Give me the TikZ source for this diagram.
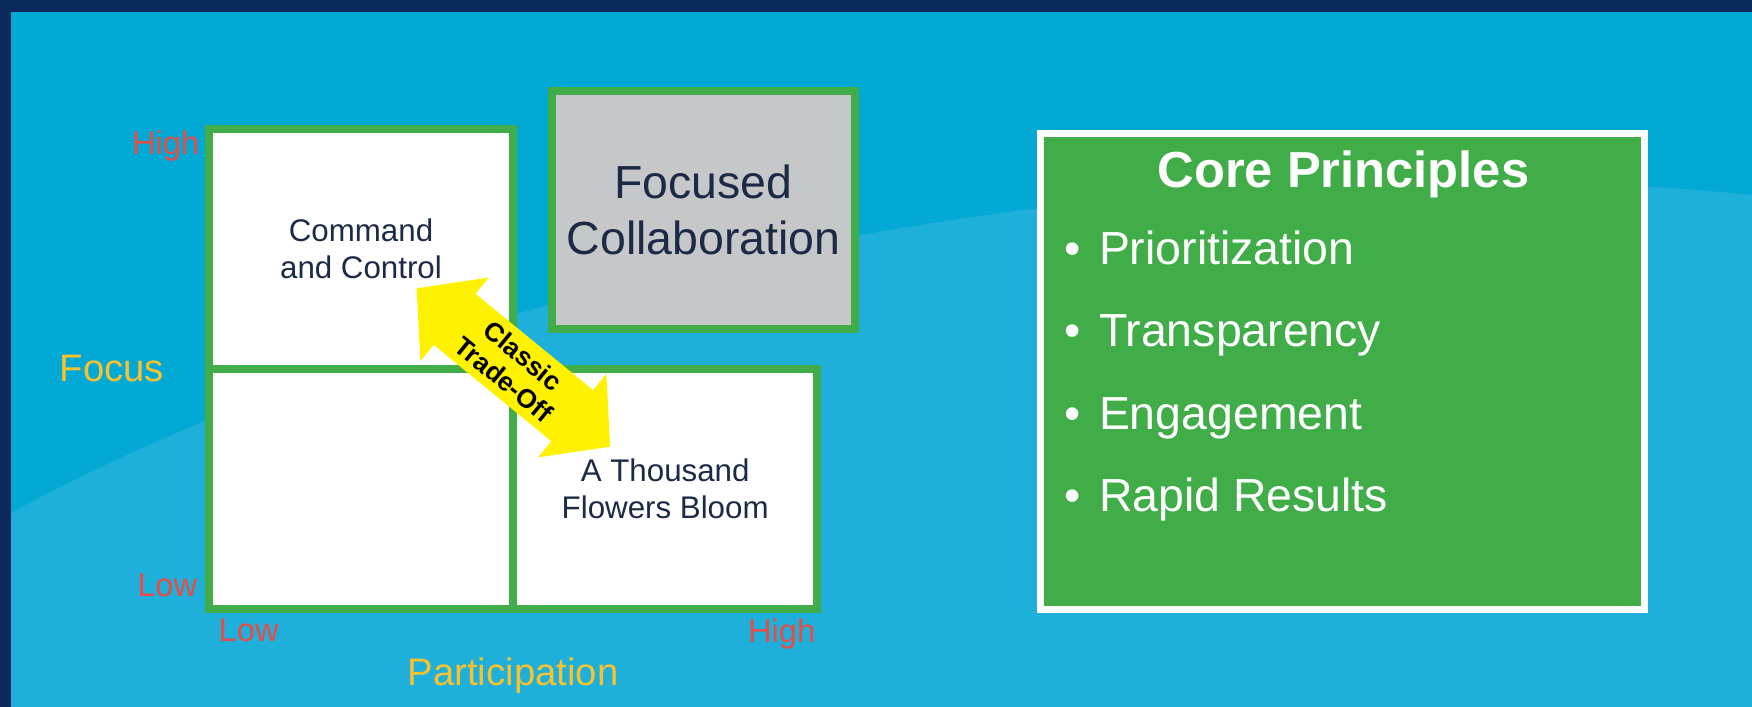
\documentclass[tikz,border=0pt]{standalone}
\usepackage{fontspec}
\setmainfont{Liberation Sans}
\usetikzlibrary{positioning}

\definecolor{navyband}{RGB}{11,42,91}
\definecolor{skyblue}{RGB}{2,169,212}
\definecolor{skylight}{RGB}{30,176,218}
\definecolor{leafgreen}{RGB}{65,173,73}
\definecolor{boxgray}{RGB}{198,199,201}
\definecolor{inktext}{RGB}{28,42,70}
\definecolor{axisred}{RGB}{232,76,70}
\definecolor{axisgold}{RGB}{247,194,45}
\definecolor{signyellow}{RGB}{255,242,0}

\begin{document}
\begin{tikzpicture}[
    x=0.01cm, y=0.01cm,
    quadrant/.style={draw=leafgreen, line width=0.08cm, fill=white, outer sep=0pt,
        minimum width=3.04cm, minimum height=2.4cm, align=center, text=inktext,
        font=\fontsize{8.9}{10.6}\selectfont},
    axisend/.style={text=axisred, inner sep=0pt, font=\fontsize{9.3}{11}\selectfont},
    axisname/.style={text=axisgold, inner sep=0pt, font=\fontsize{10.9}{13}\selectfont},
    principle/.style={text=white, inner sep=0pt, anchor=base west, font=\fontsize{13.2}{16}\selectfont}
]
    % background
    \fill[skyblue] (0,0) rectangle (1752,707);
    \fill[skylight] (11,194) .. controls (400,407) and (1100,577) .. (1752,512) -- (1752,0) -- (11,0) -- cycle;
    \fill[navyband] (0,695) rectangle (1752,707);
    \fill[navyband] (0,0) rectangle (11,707);
    \useasboundingbox (0,0) rectangle (1752,707);

    % the matrix
    \node[quadrant] (command) at (361,458) {Command\\and Control};
    \node[quadrant, below=0pt of command] (lowlow) {};
    \node[quadrant, right=0pt of lowlow] (bloom) {A Thousand\\Flowers Bloom};
    \node[draw=leafgreen, line width=0.08cm, fill=boxgray, minimum width=3.03cm, minimum height=2.38cm,
        align=center, text=inktext, font=\fontsize{13.2}{16}\selectfont] (focused) at (703.5,497) {Focused\\Collaboration};

    % axes
    \node[axisend, anchor=base east] (yhigh) at (200,552) {High};
    \node[axisend, anchor=base east] (ylow) at (198,110) {Low};
    \node[axisend, anchor=base west] (xlow) at (218,65) {Low};
    \node[axisend, anchor=base east] (xhigh) at (816,64) {High};
    \node[axisname, anchor=base west] (focus) at (59,325) {Focus};
    \node[axisname, anchor=base] (participation) at (513,21) {Participation};

    % trade-off arrow
    \begin{scope}[shift={(513.4,339.5)}, rotate=-39.3]
        \fill[signyellow] (-125,0) -- (-76,54) -- (-76,33) -- (76,33) -- (76,54) -- (125,0)
            -- (76,-54) -- (76,-33) -- (-76,-33) -- (-76,-54) -- cycle;
        \node[rotate=-39.3, align=center, font=\bfseries\fontsize{7.5}{8.6}\selectfont] (tradeoff) at (0,0) {Classic\\Trade-Off};
    \end{scope}

    % core principles
    \node[draw=white, line width=0.07cm, fill=leafgreen, minimum width=6.04cm, minimum height=4.76cm] (core) at (1342.5,335.5) {};
    \node[text=white, inner sep=0pt, anchor=base, font=\bfseries\fontsize{14.4}{17}\selectfont] (coretitle) at (1343.5,519) {Core Principles};
    \node[principle] (prio) at (1064,442) {\textbullet\hspace{0.39em}Prioritization};
    \node[principle] (transp) at (1064,360) {\textbullet\hspace{0.39em}Transparency};
    \node[principle] (engage) at (1064,277) {\textbullet\hspace{0.39em}Engagement};
    \node[principle] (rapid) at (1064,195) {\textbullet\hspace{0.39em}Rapid Results};
\end{tikzpicture}
\end{document}
